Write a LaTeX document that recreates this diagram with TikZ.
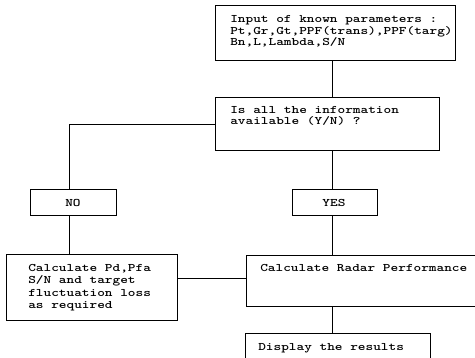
\documentclass[tikz,border=0pt]{standalone}
\usepackage{fontspec}
\begin{document}
\begin{tikzpicture}[x=1pt,y=-1pt,
  box/.style={draw,line width=0.8pt,rectangle,inner sep=0pt,anchor=north west},
  txt/.style={anchor=base west,inner sep=0pt,xscale=1.27,transform shape,font=\fontsize{11.5}{12}\selectfont\ttfamily\bfseries},
  ctxt/.style={anchor=base,inner sep=0pt,xscale=1.27,transform shape,font=\fontsize{11.5}{12}\selectfont\ttfamily\bfseries},
  wire/.style={line width=0.8pt}]
\useasboundingbox (0,0) rectangle (475,357);
\clip (0,0) rectangle (475,357);
% boxes
\node[box,minimum width=240pt,minimum height=55pt] (inp) at (215,5) {};
\node[box,minimum width=224pt,minimum height=53pt] (dec) at (215,97) {};
\node[box,minimum width=86pt,minimum height=26pt] (nobox) at (30,189) {};
\node[box,minimum width=85pt,minimum height=26pt] (yesbox) at (292,189) {};
\node[box,minimum width=171pt,minimum height=66pt] (calc) at (6,254) {};
\node[box,minimum width=240pt,minimum height=51pt] (radar) at (246,255) {};
\node[box,minimum width=185pt,minimum height=40pt] (disp) at (245,333) {};
% texts
\node[txt] (t1) at (230,22.5) {Input of known parameters :};
\node[txt] (t2) at (230,34) {Pt,Gr,Gt,PPF(trans),PPF(targ)};
\node[txt] (t3) at (230,45.5) {Bn,L,Lambda,S/N};
\node[txt] (t4) at (230,113) {Is all the information};
\node[txt] (t5) at (230,124.5) {available (Y/N) ?};
\node[ctxt] (t6) at (73,206) {NO};
\node[ctxt] (t7) at (334,206) {YES};
\node[txt] (t8) at (28,271) {Calculate Pd,Pfa};
\node[txt] (t9) at (28,283.5) {S/N and target};
\node[txt] (t10) at (28,296) {fluctuation loss};
\node[txt] (t11) at (28,308.5) {as required};
\node[txt] (t12) at (260,271) {Calculate Radar Performance};
\node[txt] (t13) at (258,350) {Display the results};
% guide coordinates
\coordinate (cx) at (332,0);
\coordinate (lx) at (69,0);
\coordinate (hy) at (0,278);
% connectors
\draw[wire] (inp.south -| cx) -- (dec.north -| cx);
\draw[wire] (dec.south -| cx) -- (yesbox.north -| cx);
\draw[wire] (yesbox.south -| cx) -- (radar.north -| cx);
\draw[wire] (radar.south -| cx) -- (disp.north -| cx);
\draw[wire] (dec.west) -- (dec.west -| lx) -- (nobox.north -| lx);
\draw[wire] (nobox.south -| lx) -- (calc.north -| lx);
\draw[wire] (calc.east |- hy) -- (radar.west |- hy);
\end{tikzpicture}
\end{document}
